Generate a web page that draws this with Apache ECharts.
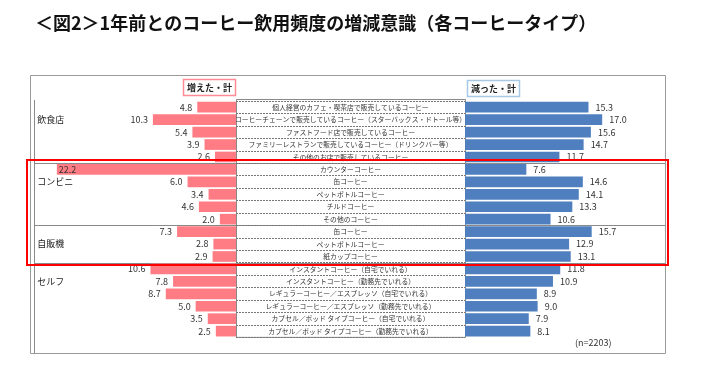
<!DOCTYPE html>
<html><head><meta charset="utf-8">
<script src="https://cdn.jsdelivr.net/npm/echarts/dist/echarts.min.js"></script>
<style>html,body{margin:0;padding:0;background:#fff}#c{width:711px;height:372px}</style>
</head><body><div id="c"></div>
<script>
const titleText = '＜図2＞1年前とのコーヒー飲用頻度の増減意識（各コーヒータイプ）';
const groupNames = ['飲食店', 'コンビニ', '自販機', 'セルフ'];
const groupSizes = [5, 5, 3, 6];
const categories = [
  '個人経営のカフェ・喫茶店で販売しているコーヒー',
  'コーヒーチェーンで販売しているコーヒー（スターバックス・ドトール等）',
  'ファストフード店で販売しているコーヒー',
  'ファミリーレストランで販売しているコーヒー（ドリンクバー等）',
  'その他のお店で販売しているコーヒー',
  'カウンターコーヒー',
  '缶コーヒー',
  'ペットボトルコーヒー',
  'チルドコーヒー',
  'その他のコーヒー',
  '缶コーヒー',
  'ペットボトルコーヒー',
  '紙カップコーヒー',
  'インスタントコーヒー（自宅でいれる）',
  'インスタントコーヒー（勤務先でいれる）',
  'レギュラーコーヒー／エスプレッソ（自宅でいれる）',
  'レギュラーコーヒー／エスプレッソ（勤務先でいれる）',
  'カプセル／ポッド タイプコーヒー（自宅でいれる）',
  'カプセル／ポッド タイプコーヒー（勤務先でいれる）'
];
const increased = [4.8, 10.3, 5.4, 3.9, 2.6, 22.2, 6.0, 3.4, 4.6, 2.0, 7.3, 2.8, 2.9, 10.6, 7.8, 8.7, 5.0, 3.5, 2.5];
const decreased = [15.3, 17.0, 15.6, 14.7, 11.7, 7.6, 14.6, 14.1, 13.3, 10.6, 15.7, 12.9, 13.1, 11.8, 10.9, 8.9, 9.0, 7.9, 8.1];
const increasedName = '増えた・計';
const decreasedName = '減った・計';
const sampleNote = '(n=2203)';

// layout
const FONT = '"Noto Sans CJK JP", "Noto Sans", sans-serif';
const N = categories.length;
const TOP = 101, ROWH = 12.44, H = ROWH * N;
const SCALE = 8.07;
const LEFT_ANCHOR = 236, RIGHT_ANCHOR = 465;
const LEFT_MAX = 25, RIGHT_MAX = 24;
const LW = LEFT_MAX * SCALE, RW = RIGHT_MAX * SCALE;
const PINK = '#FF7C84', BLUE = '#4F7FBE';

const rowGroupLabels = new Array(N).fill('');
const sepRows = [];
let acc = 0;
groupSizes.forEach((s, i) => { rowGroupLabels[acc + 1] = groupNames[i]; acc += s; if (acc < N) sepRows.push(acc); });

const chart = echarts.init(document.getElementById('c'), null, {renderer: 'canvas'});

const graphics = [];
// outer frame
graphics.push({type: 'rect', shape: {x: 30.5, y: 75.5, width: 635, height: 278}, style: {fill: null, stroke: '#9a9a9a', lineWidth: 1}, z: 0});
// left inner column line
graphics.push({type: 'line', shape: {x1: 34.5, y1: TOP - 1, x2: 34.5, y2: 353}, style: {stroke: '#8a8a8a', lineWidth: 1}, z: 0});
// group separators
sepRows.forEach(r => {
  const y = Math.round(TOP + r * ROWH) + 0.5;
  graphics.push({type: 'line', shape: {x1: 34.5, y1: y, x2: 665, y2: y}, style: {stroke: '#8a8a8a', lineWidth: 1.2}, z: 0});
});
// center box
graphics.push({type: 'rect', shape: {x: LEFT_ANCHOR + 0.5, y: TOP - 1.5, width: RIGHT_ANCHOR - LEFT_ANCHOR, height: H + 1.5}, style: {fill: null, stroke: '#8a8a8a', lineWidth: 1}, z: 0});
// header boxes
graphics.push({type: 'rect', shape: {x: 183.5, y: 79.5, width: 52, height: 16}, style: {fill: '#fff', stroke: '#FF8C94', lineWidth: 1.5}, z: 5});
graphics.push({type: 'text', x: 209.5, y: 88, style: {text: increasedName, font: 'bold 9px ' + FONT, fill: '#222', align: 'center', verticalAlign: 'middle'}, z: 6});
graphics.push({type: 'rect', shape: {x: 467.5, y: 80.5, width: 52, height: 16}, style: {fill: '#fff', stroke: '#A8C8E8', lineWidth: 1.5}, z: 5});
graphics.push({type: 'text', x: 493.5, y: 89, style: {text: decreasedName, font: 'bold 9px ' + FONT, fill: '#222', align: 'center', verticalAlign: 'middle'}, z: 6});
// red highlight box
graphics.push({type: 'rect', shape: {x: 27, y: 160, width: 641, height: 105}, style: {fill: null, stroke: '#FF0000', lineWidth: 2}, z: 10});
// n note
graphics.push({type: 'text', x: 575, y: 343, style: {text: sampleNote, font: '9px ' + FONT, fill: '#333', verticalAlign: 'middle'}, z: 6});

const gridBase = {top: TOP, height: H, outerBoundsMode: 'none', containLabel: false};

const option = {
  animation: false,
  backgroundColor: '#fff',
  title: {
    text: titleText, left: 30, top: 9,
    textStyle: {fontSize: 18, fontWeight: 'bold', color: '#111', fontFamily: FONT}
  },
  grid: [
    Object.assign({left: LEFT_ANCHOR - LW, width: LW}, gridBase),
    Object.assign({left: LEFT_ANCHOR, width: RIGHT_ANCHOR - LEFT_ANCHOR}, gridBase),
    Object.assign({left: RIGHT_ANCHOR, width: RW}, gridBase)
  ],
  xAxis: [
    {gridIndex: 0, type: 'value', min: 0, max: LEFT_MAX, inverse: true, show: false},
    {gridIndex: 1, type: 'value', min: 0, max: 1, show: false},
    {gridIndex: 2, type: 'value', min: 0, max: RIGHT_MAX, show: false}
  ],
  yAxis: [
    {gridIndex: 0, type: 'category', data: categories, inverse: true, position: 'left',
     axisLine: {show: false}, axisTick: {show: false}, splitLine: {show: false},
     axisLabel: {inside: true, margin: 3, align: 'left', fontSize: 9, color: '#222', fontFamily: FONT,
       padding: [4, 0, 0, 0],
       formatter: (v, i) => rowGroupLabels[i]}},
    {gridIndex: 1, type: 'category', data: categories, inverse: true, position: 'left',
     axisLine: {show: false}, axisTick: {show: false},
     splitLine: {show: true, lineStyle: {color: '#777', width: 1, type: [2, 1]}},
     axisLabel: {inside: true, margin: (RIGHT_ANCHOR - LEFT_ANCHOR) / 2, align: 'center', fontSize: 6.8, color: '#333', fontFamily: FONT, interval: 0}},
    {gridIndex: 2, type: 'category', data: categories, inverse: true, show: false}
  ],
  series: [
    {type: 'bar', name: increasedName, xAxisIndex: 0, yAxisIndex: 0, barCategoryGap: '14%',
     itemStyle: {color: PINK},
     label: {show: true, position: 'left', distance: 5, fontSize: 9, color: '#333', fontFamily: FONT, formatter: p => p.value.toFixed(1)},
     data: increased.map(v => v > LEFT_MAX - 3 ? {value: v, label: {position: 'insideLeft', distance: 2}} : v), z: 3},
    {type: 'bar', name: decreasedName, xAxisIndex: 2, yAxisIndex: 2, barCategoryGap: '14%',
     itemStyle: {color: BLUE},
     label: {show: true, position: 'right', distance: 7, fontSize: 9, color: '#333', fontFamily: FONT, formatter: p => p.value.toFixed(1)},
     data: decreased, z: 3}
  ],
  graphic: graphics
};
chart.setOption(option);
</script></body></html>
